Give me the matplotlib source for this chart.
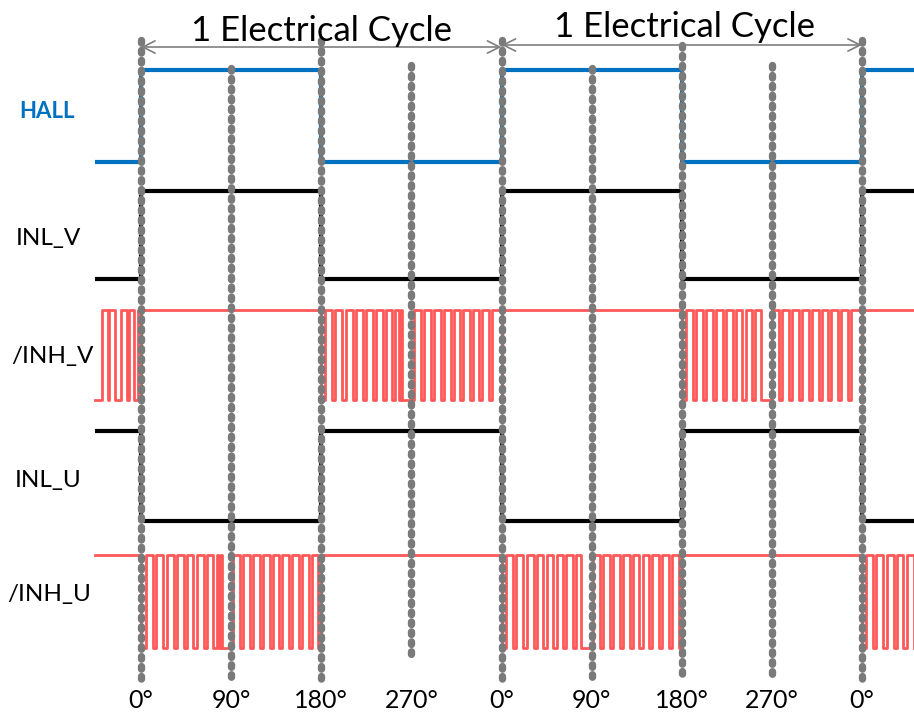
import matplotlib.pyplot as plt

plt.rcParams['font.family'] = ['Lato', 'DejaVu Sans']

# phase boundaries in electrical degrees (left edge, 0, 180, 360, 540, 720, right edge)
edges = [-46, 0, 180, 360, 540, 720, 772]

# level per phase interval: 1 = high, 0 = low, 'pwm' = chopped
hall = [0, 1, 0, 1, 0, 1]
inl_v = [0, 1, 0, 1, 0, 1]
inh_v = ['pwm', 1, 'pwm', 1, 'pwm', 1]
inl_u = [1, 0, 1, 0, 1, 0]
inh_u = [1, 'pwm', 1, 'pwm', 1, 'pwm']

# PWM high pulses, (start, end) offsets in degrees from the start of the interval
pwm_left = [(7, 13), (14, 20), (26, 32), (34, 39), (43, 46)]
pwm_v1 = [(4, 11), (14, 21), (25, 32), (35, 42), (45, 52), (55, 62), (65, 71), (74, 78),
          (80, 81), (93, 100), (103, 110), (113, 120), (123, 130), (133, 139), (142, 149),
          (152, 158), (161, 168), (171, 180)]
pwm_v2 = [(4, 11), (14, 21), (24, 31), (34, 41), (44, 51), (54, 60), (64, 70), (73, 79),
          (90, 97), (100, 107), (110, 117), (120, 127), (130, 137), (140, 146), (149, 156),
          (159, 166), (169, 180)]
pwm_u1 = [(5, 12), (15, 22), (26, 33), (36, 43), (46, 52), (56, 63), (66, 72), (76, 78),
          (80, 81), (92, 99), (102, 109), (112, 119), (122, 129), (132, 138), (141, 148),
          (151, 158), (161, 168), (171, 177)]
pwm_u2 = [(4, 11), (14, 21), (25, 32), (35, 41), (45, 51), (55, 61), (64, 71), (74, 79),
          (91, 98), (101, 108), (111, 118), (121, 128), (131, 137), (141, 147), (150, 157),
          (160, 167), (170, 177)]
pwm_u3 = [(4, 11), (14, 21), (25, 32), (35, 41), (45, 52)]

inh_v_pwm = {0: pwm_left, 2: pwm_v1, 4: pwm_v2}
inh_u_pwm = {1: pwm_u1, 3: pwm_u2, 5: pwm_u3}

angle_ticks = [0, 90, 180, 270, 360, 450, 540, 630, 720]
angle_labels = ['0°', '90°', '180°', '270°', '0°', '90°', '180°', '270°', '0°']


def trace(levels, hi, lo, pwm=None):
    xs, ys = [], []
    for i, lev in enumerate(levels):
        a, b = edges[i], edges[i + 1]
        if lev == 'pwm':
            xs.append(a)
            ys.append(lo)
            for s, e in pwm[i]:
                xs += [a + s, a + s, a + e, a + e]
                ys += [lo, hi, hi, lo]
            xs.append(b)
            ys.append(lo)
        else:
            y = hi if lev else lo
            xs += [a, b]
            ys += [y, y]
    return xs, ys


fig = plt.figure(figsize=(9.14, 7.14), dpi=100)
ax = fig.add_axes([0, 0, 1, 1])
scale = 721 / 720.0  # pixels per degree
ax.set_xlim(-141 / scale, (914 - 141) / scale)
ax.set_ylim(714, 0)
ax.axis('off')


def px(x):
    return (x - 141) / scale


# signals (y in pixel rows)
x, y = trace(hall, 70, 162)
ax.plot(x, y, color='#0070C0', lw=3, solid_capstyle='butt', zorder=2)
x, y = trace(inl_v, 191, 279)
ax.plot(x, y, color='black', lw=3, solid_capstyle='butt', zorder=2)
x, y = trace(inh_v, 310, 400, inh_v_pwm)
ax.plot(x, y, color='#FF4F4F', lw=2, alpha=0.95, zorder=2)
x, y = trace(inl_u, 431, 521)
ax.plot(x, y, color='black', lw=3, solid_capstyle='butt', zorder=2)
x, y = trace(inh_u, 555, 648, inh_u_pwm)
ax.plot(x, y, color='#FF4F4F', lw=2, alpha=0.95, zorder=2)

# dotted phase markers
tops = [40, 68, 40, 65, 40, 68, 45, 65, 40]
bottoms = [680, 680, 680, 658, 680, 680, 680, 680, 680]
for deg, t, b in zip(angle_ticks, tops, bottoms):
    ax.plot([deg, deg], [t, b], color='#7a7a7a', lw=5.3,
            linestyle=(0, (0.35, 1.0)), dash_capstyle='round', zorder=3)

for deg, lab in zip(angle_ticks, angle_labels):
    ax.text(deg, 700, lab, ha='center', va='center', fontsize=18, color='black')

# cycle arrows
ax.annotate('', xy=(0, 47), xytext=(360, 47),
            arrowprops=dict(arrowstyle='<->', color='#7f7f7f', lw=1.2,
                            mutation_scale=22, shrinkA=0, shrinkB=0), zorder=4)
ax.annotate('', xy=(360, 45), xytext=(720, 45),
            arrowprops=dict(arrowstyle='<->', color='#7f7f7f', lw=1.2,
                            mutation_scale=22, shrinkA=0, shrinkB=0), zorder=4)
ax.text(180, 31, '1 Electrical Cycle', ha='center', va='center', fontsize=25, zorder=5)
ax.text(543, 27, '1 Electrical Cycle', ha='center', va='center', fontsize=25, zorder=5)

# signal names
ax.text(px(47), 112, 'HALL', ha='center', va='center', fontsize=16,
        fontweight='bold', color='#0070C0')
ax.text(px(48), 239, 'INL_V', ha='center', va='center', fontsize=17.5)
ax.text(px(52), 357, '/INH_V', ha='center', va='center', fontsize=17.5)
ax.text(px(48), 481, 'INL_U', ha='center', va='center', fontsize=17.5)
ax.text(px(49), 595, '/INH_U', ha='center', va='center', fontsize=17.5)

fig.savefig('out.png', dpi=100)
